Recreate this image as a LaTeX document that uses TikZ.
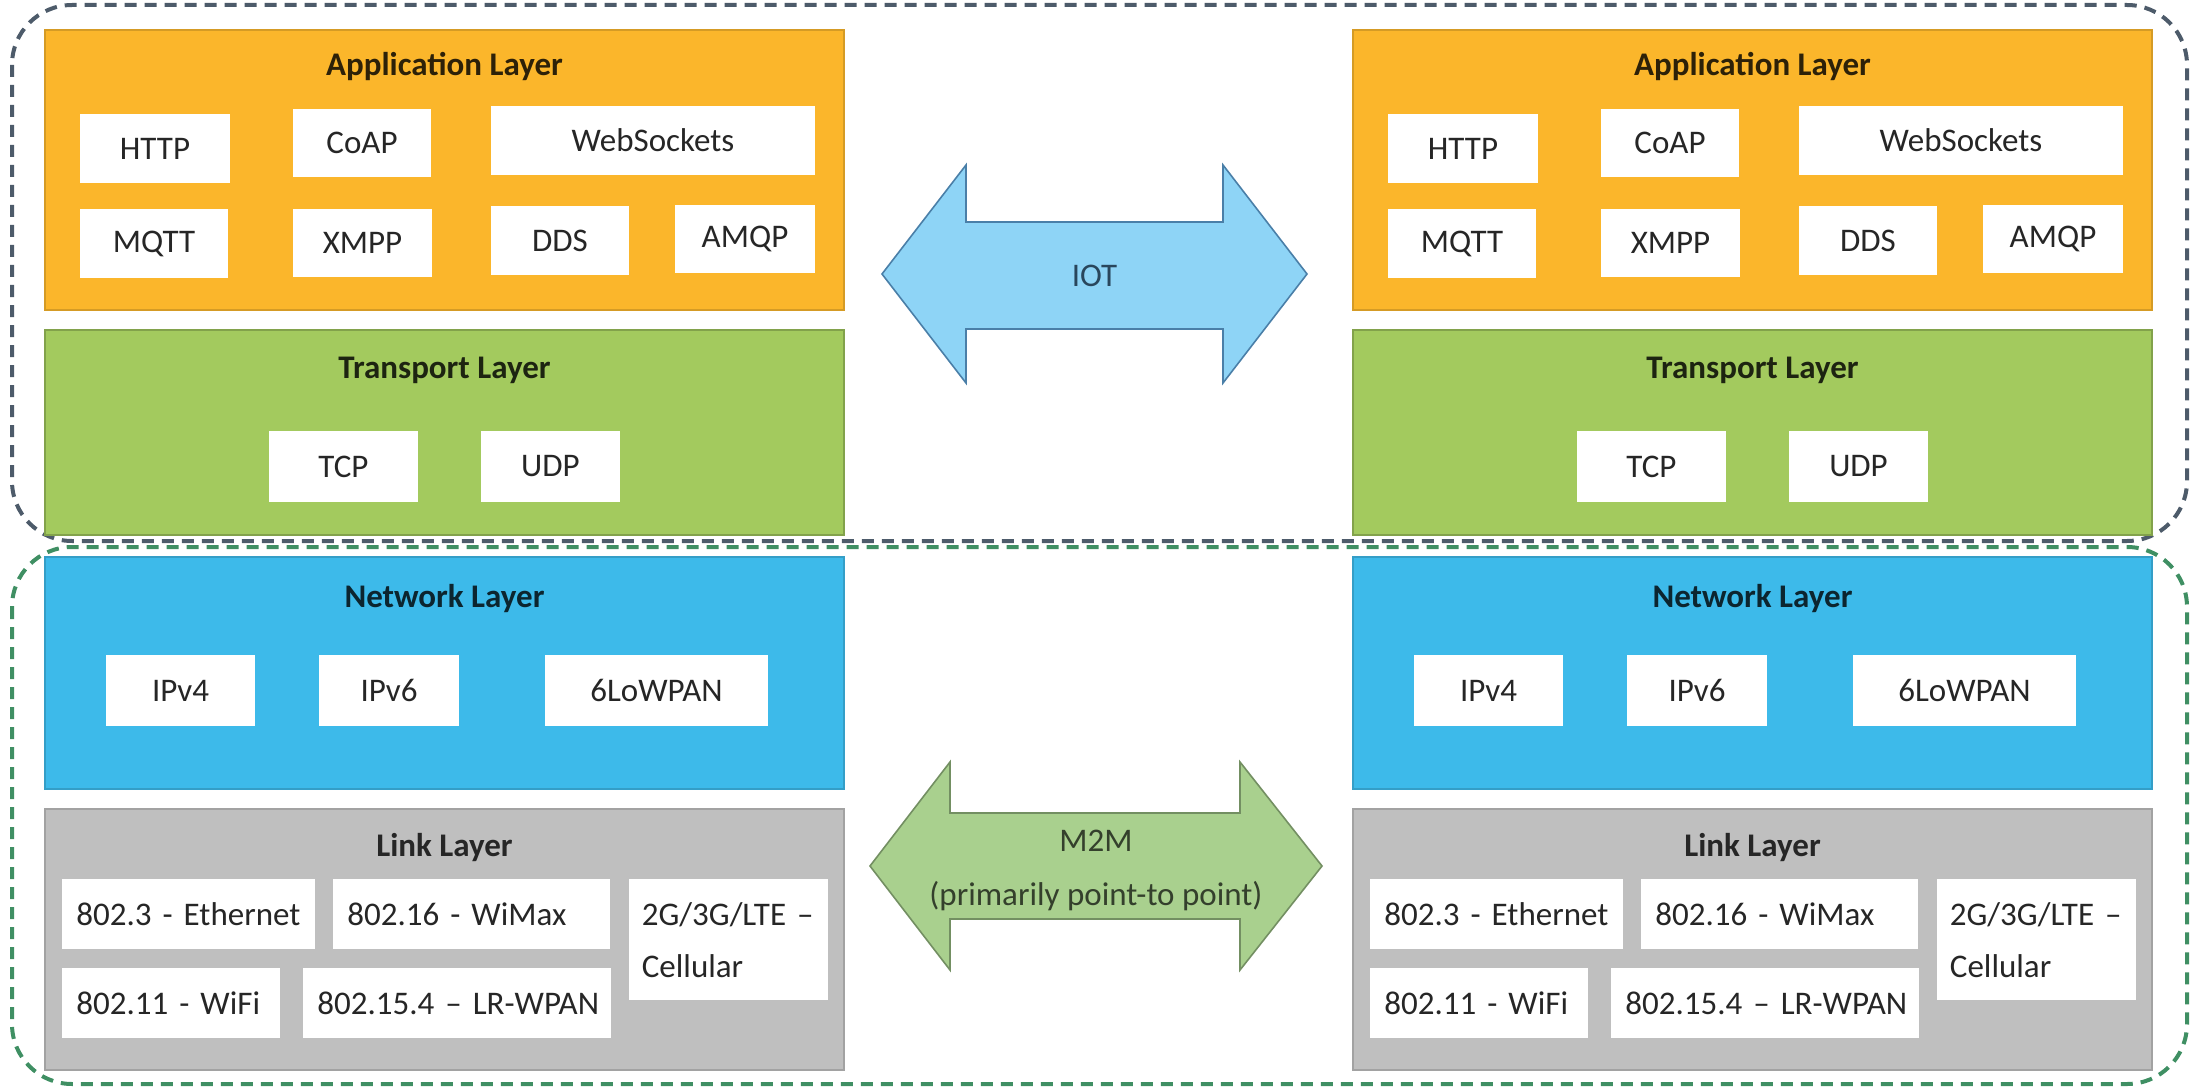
\documentclass[tikz,border=0pt]{standalone}
\usepackage{fontspec}
\setmainfont{Carlito}
\usepackage{tikz}

\definecolor{appcol}{HTML}{FBB62B}
\definecolor{tracol}{HTML}{A3CA5E}
\definecolor{netcol}{HTML}{3DBAEA}
\definecolor{lnkcol}{HTML}{BFBFBF}
\definecolor{iotcol}{HTML}{8ED4F6}
\definecolor{iotline}{HTML}{4A7FA8}
\definecolor{mtmcol}{HTML}{A9D08E}
\definecolor{mtmline}{HTML}{738F62}
\definecolor{topdash}{HTML}{4D5B6A}
\definecolor{botdash}{HTML}{3F8F63}

\tikzset{
  frame/.style={dash pattern=on 6pt off 4pt, line width=2pt, rounded corners=30pt},
  layer/.style={line width=0.6pt},
  title/.style={font=\fontsize{16.5}{26}\selectfont\bfseries, anchor=base, inner sep=0pt},
  item/.style={fill=white, inner sep=0pt, text=black!85, font=\fontsize{16.5}{26}\selectfont},
  linkitem/.style={item, align=left, anchor=north west, inner xsep=7pt, minimum height=35pt},
  bigarrow/.style={line width=0.8pt, line join=miter},
  arrowtext/.style={font=\fontsize{16.5}{27}\selectfont, align=center, inner sep=0pt}
}

\begin{document}
\begin{tikzpicture}[x=0.5pt, y=-0.5pt]
\useasboundingbox (0,0) rectangle (2194,1091);

\draw[frame, topdash] (12,5) rectangle (2187,541);
\draw[frame, botdash] (12,547) rectangle (2187,1084);

\filldraw[layer, fill=appcol, draw=appcol!85!black] (45,30) rectangle (844,310);
\filldraw[layer, fill=tracol, draw=tracol!80!black] (45,330) rectangle (844,535);
\filldraw[layer, fill=netcol, draw=netcol!85!black] (45,557) rectangle (844,789);
\filldraw[layer, fill=lnkcol, draw=lnkcol!85!black] (45,809) rectangle (844,1070);
\filldraw[layer, fill=appcol, draw=appcol!85!black] (1353,30) rectangle (2152,310);
\filldraw[layer, fill=tracol, draw=tracol!80!black] (1353,330) rectangle (2152,535);
\filldraw[layer, fill=netcol, draw=netcol!85!black] (1353,557) rectangle (2152,789);
\filldraw[layer, fill=lnkcol, draw=lnkcol!85!black] (1353,809) rectangle (2152,1070);

\node[title, text=appcol!18!black] (appL) at (444.5,76) {Application Layer};
\node[title, text=tracol!18!black] (traL) at (444.5,378) {Transport Layer};
\node[title, text=netcol!20!black] (netL) at (444.5,607) {Network Layer};
\node[title, text=black!85] (lnkL) at (444.5,856) {Link Layer};
\node[title, text=appcol!18!black] (appR) at (1752.5,76) {Application Layer};
\node[title, text=tracol!18!black] (traR) at (1752.5,378) {Transport Layer};
\node[title, text=netcol!20!black] (netR) at (1752.5,607) {Network Layer};
\node[title, text=black!85] (lnkR) at (1752.5,856) {Link Layer};

\node[item, minimum width=75pt, minimum height=34.5pt] (httpL) at (155,148.5) {HTTP};
\node[item, minimum width=69pt, minimum height=34pt] (coapL) at (362,143) {CoAP};
\node[item, minimum width=162pt, minimum height=34.5pt] (wsL) at (653,140.5) {WebSockets};
\node[item, minimum width=74pt, minimum height=34.5pt] (mqttL) at (154,243.5) {MQTT};
\node[item, minimum width=69.5pt, minimum height=34pt] (xmppL) at (362.5,243) {XMPP};
\node[item, minimum width=69pt, minimum height=34.5pt] (ddsL) at (560,240.5) {DDS};
\node[item, minimum width=70pt, minimum height=34pt] (amqpL) at (745,239) {AMQP};
\node[item, minimum width=74.5pt, minimum height=35.5pt] (tcpL) at (343.5,466.5) {TCP};
\node[item, minimum width=69.5pt, minimum height=35.5pt] (udpL) at (550.5,466.5) {UDP};
\node[item, minimum width=74.5pt, minimum height=35.5pt] (ipfourL) at (180.5,690.5) {IPv4};
\node[item, minimum width=70pt, minimum height=35.5pt] (ipsixL) at (389,690.5) {IPv6};
\node[item, minimum width=111.5pt, minimum height=35.5pt] (lowpanL) at (656.5,690.5) {6LoWPAN};
\node[linkitem, text width=112.5pt] (ethL) at (62,879) {802.3 - Ethernet};
\node[linkitem, text width=124.5pt] (wimaxL) at (333,879) {802.16 - WiMax};
\node[linkitem, text width=87pt, inner xsep=6.25pt, minimum height=60.5pt] (cellL) at (629,879) {2G/3G/LTE~--\\Cellular};
\node[linkitem, text width=95pt] (wifiL) at (62,968) {802.11 - WiFi};
\node[linkitem, text width=140pt] (wpanL) at (303,968) {\mbox{802.15.4 -- LR-WPAN}};

\node[item, minimum width=75pt, minimum height=34.5pt] (httpR) at (1463,148.5) {HTTP};
\node[item, minimum width=69pt, minimum height=34pt] (coapR) at (1670,143) {CoAP};
\node[item, minimum width=162pt, minimum height=34.5pt] (wsR) at (1961,140.5) {WebSockets};
\node[item, minimum width=74pt, minimum height=34.5pt] (mqttR) at (1462,243.5) {MQTT};
\node[item, minimum width=69.5pt, minimum height=34pt] (xmppR) at (1670.5,243) {XMPP};
\node[item, minimum width=69pt, minimum height=34.5pt] (ddsR) at (1868,240.5) {DDS};
\node[item, minimum width=70pt, minimum height=34pt] (amqpR) at (2053,239) {AMQP};
\node[item, minimum width=74.5pt, minimum height=35.5pt] (tcpR) at (1651.5,466.5) {TCP};
\node[item, minimum width=69.5pt, minimum height=35.5pt] (udpR) at (1858.5,466.5) {UDP};
\node[item, minimum width=74.5pt, minimum height=35.5pt] (ipfourR) at (1488.5,690.5) {IPv4};
\node[item, minimum width=70pt, minimum height=35.5pt] (ipsixR) at (1697,690.5) {IPv6};
\node[item, minimum width=111.5pt, minimum height=35.5pt] (lowpanR) at (1964.5,690.5) {6LoWPAN};
\node[linkitem, text width=112.5pt] (ethR) at (1370,879) {802.3 - Ethernet};
\node[linkitem, text width=124.5pt] (wimaxR) at (1641,879) {802.16 - WiMax};
\node[linkitem, text width=87pt, inner xsep=6.25pt, minimum height=60.5pt] (cellR) at (1937,879) {2G/3G/LTE~--\\Cellular};
\node[linkitem, text width=95pt] (wifiR) at (1370,968) {802.11 - WiFi};
\node[linkitem, text width=140pt] (wpanR) at (1611,968) {\mbox{802.15.4 -- LR-WPAN}};

\filldraw[bigarrow, fill=iotcol, draw=iotline] (882,274) -- (966,165) -- (966,222) -- (1223,222) -- (1223,165) -- (1307,274) -- (1223,383) -- (1223,329) -- (966,329) -- (966,383) -- cycle;
\node[arrowtext, text=iotline!55!black] (iot) at (1094.5,276) {IOT};

\filldraw[bigarrow, fill=mtmcol, draw=mtmline] (870,866) -- (950,762) -- (950,813) -- (1240,813) -- (1240,762) -- (1322,866) -- (1240,970) -- (1240,919) -- (950,919) -- (950,970) -- cycle;
\node[arrowtext, text=mtmline!45!black] (mtm) at (1096,870) {M2M\\(primarily point-to point)};
\end{tikzpicture}
\end{document}
